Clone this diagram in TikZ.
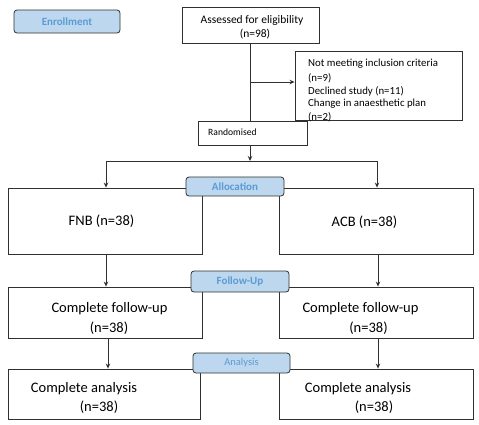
\documentclass[tikz,border=0pt]{standalone}
\usepackage{fontspec}
\setmainfont{Carlito}
\usetikzlibrary{arrows.meta,calc}
\definecolor{lblfill}{HTML}{BDD7EE}
\definecolor{lbltext}{HTML}{5B9BD5}
\definecolor{edge}{HTML}{303030}
\begin{document}
\begin{tikzpicture}[x=1pt,y=-1pt,
  box/.style={draw=edge,line width=0.9pt,inner sep=0pt,fill=white},
  lbl/.style={draw=edge,line width=0.8pt,rounded corners=3pt,fill=lblfill,text=lbltext,
    font=\fontsize{11}{13}\selectfont\bfseries,inner sep=0pt},
  big/.style={font=\fontsize{14.5}{17}\selectfont,inner sep=0pt},
  mid/.style={font=\fontsize{11.5}{14}\selectfont,inner sep=0pt},
  sml/.style={font=\fontsize{10.8}{13}\selectfont,inner sep=0pt,anchor=west},
  arr/.style={-{Stealth[length=5pt,width=4.5pt]},draw=edge,line width=0.9pt},
  ln/.style={draw=edge,line width=0.9pt}]
\fill[white] (0,0) rectangle (479,424);
\useasboundingbox (0,0) rectangle (479,424);

% boxes
\node[box,minimum width=137pt,minimum height=36pt] (assess) at (250.5,25) {};
\node[box,minimum width=167pt,minimum height=69pt] (excl) at (378.5,85.5) {};
\node[box,minimum width=109pt,minimum height=24pt] (rand) at (252.5,133) {};
\node[box,minimum width=194pt,minimum height=66pt] (fnb) at (105,221) {};
\node[box,minimum width=194pt,minimum height=66pt] (acb) at (376,221) {};
\node[box,minimum width=194pt,minimum height=51pt] (fu1) at (105,312.5) {};
\node[box,minimum width=194pt,minimum height=51pt] (fu2) at (376,312.5) {};
\node[box,minimum width=192pt,minimum height=50pt] (an1) at (104,394) {};
\node[box,minimum width=194pt,minimum height=50pt] (an2) at (376,394) {};

% texts
\node[mid] (t1) at (252,20.5) {Assessed for eligibility};
\node[mid] (t2) at (255,34.5) {(n=98)};
\node[sml] (e1) at (308,64) {Not meeting inclusion criteria};
\node[sml] (e2) at (308,78.5) {(n=9)};
\node[sml] (e3) at (308,91) {Declined study (n=11)};
\node[sml] (e4) at (308,104) {Change in anaesthetic plan};
\node[sml] (e5) at (308,117) {(n=2)};
\node[font=\fontsize{9.6}{11}\selectfont,inner sep=0pt,anchor=west] (tr) at (208,132.5) {Randomised};
\node[big] (tf) at (101.5,221) {FNB (n=38)};
\node[big] (ta) at (364.5,222) {ACB (n=38)};
\node[big] (f1a) at (109.5,309) {Complete follow-up};
\node[big] (f1b) at (109,328) {(n=38)};
\node[big] (f2a) at (360.5,309) {Complete follow-up};
\node[big] (f2b) at (368.5,328) {(n=38)};
\node[big] (a1a) at (84,389) {Complete analysis};
\node[big] (a1b) at (99,407) {(n=38)};
\node[big] (a2a) at (358,389) {Complete analysis};
\node[big] (a2b) at (374,407) {(n=38)};

% connectors
\coordinate (j1) at (250,82);
\coordinate (split) at (250,161);
\draw[ln] (assess.south -| j1) -- (rand.north -| j1);
\draw[arr] (j1) -- (j1 -| excl.west);
\draw[arr] (rand.south -| split) -- (split);
\draw[arr] (split) -| ($(fnb.north)+(1,0)$);
\draw[arr] (split) -| ($(acb.north)+(1,0)$);
\draw[arr] ($(fnb.south)+(1,0)$) -- ($(fu1.north)+(1,0)$);
\draw[arr] ($(acb.south)+(2,0)$) -- ($(fu2.north)+(2,0)$);
\draw[arr] ($(fu1.south)+(3,0)$) -- ($(an1.north)+(4,0)$);
\draw[arr] ($(fu2.south)+(2,0)$) -- ($(an2.north)+(2,0)$);

% stage labels
\node[lbl,minimum width=106pt,minimum height=23pt] (enr) at (67,21.5) {Enrollment};
\node[lbl,minimum width=98pt,minimum height=19pt] (alloc) at (235,186.5) {Allocation};
\node[lbl,minimum width=98pt,minimum height=21pt] (fol) at (240,281.5) {Follow-Up};
\node[lbl,minimum width=97pt,minimum height=20pt,font=\fontsize{10.5}{12}\selectfont] (ana) at (241.5,363) {Analysis};
\end{tikzpicture}
\end{document}
